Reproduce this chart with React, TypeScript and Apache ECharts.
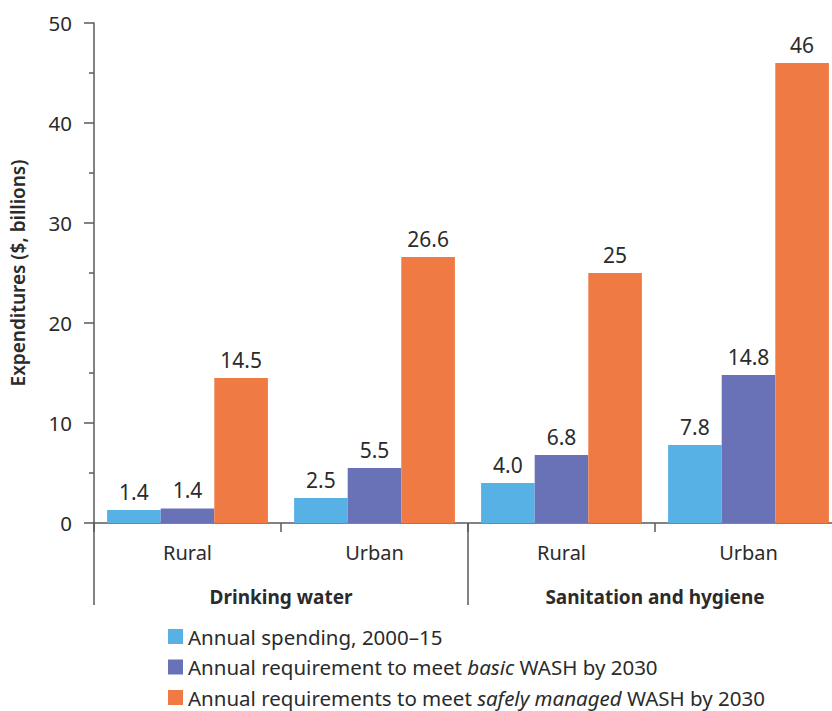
import React, { useEffect, useRef } from "react";
import * as echarts from "echarts";

const categories = ["Rural", "Urban", "Rural", "Urban"];
const groups = ["Drinking water", "Sanitation and hygiene"];
const seriesNames = [
  "Annual spending, 2000–15",
  "Annual requirement to meet basic WASH by 2030",
  "Annual requirements to meet safely managed WASH by 2030",
];
const spending = [1.3, 2.5, 4.0, 7.8];
const basic = [1.45, 5.5, 6.8, 14.8];
const safely = [14.5, 26.6, 25, 46];
const spendingLabels = ["1.4", "2.5", "4.0", "7.8"];
const basicLabels = ["1.4", "5.5", "6.8", "14.8"];
const safelyLabels = ["14.5", "26.6", "25", "46"];
const yTicks = [0, 10, 20, 30, 40, 50];
const colors = ["#58b1e4", "#6a72b7", "#f07a44"];

const FONT = "'Noto Sans', sans-serif";
const TEXT = "#2b2b2b";
const AXIS = "#5a5a5a";

export default function App() {
  const ref = useRef<HTMLDivElement>(null);
  useEffect(() => {
    if (!ref.current) return;
    const chart = echarts.init(ref.current, undefined, { renderer: "svg" });
    const values = [spending, basic, safely];
    const labels = [spendingLabels, basicLabels, safelyLabels];
    const richNames: Record<string, string> = {
      [seriesNames[0]]: seriesNames[0],
      [seriesNames[1]]: seriesNames[1].replace("basic", "{i|basic}"),
      [seriesNames[2]]: seriesNames[2].replace("safely managed", "{i|safely managed}"),
    };
    chart.setOption({
      animation: false,
      textStyle: { fontFamily: FONT },
      grid: { left: 94, right: -10, top: 23, bottom: 188, containLabel: false, outerBoundsMode: "none" },
      legend: {
        orient: "vertical",
        left: 163,
        top: 621,
        height: 150,
        itemWidth: 15,
        itemHeight: 15,
        itemGap: 9.5,
        icon: "rect",
        data: seriesNames,
        formatter: (n: string) => richNames[n] ?? n,
        textStyle: {
          fontFamily: FONT,
          fontSize: 20.5,
          color: TEXT,
          lineHeight: 21,
          rich: { i: { fontStyle: "italic", fontSize: 20.5, color: TEXT, fontFamily: FONT, lineHeight: 21 } },
        },
      },
      xAxis: [
        {
          type: "category",
          data: categories,
          axisLine: { lineStyle: { color: AXIS, width: 1.5 } },
          axisTick: { show: true, length: 9, lineStyle: { color: AXIS, width: 1.5 } },
          axisLabel: { fontSize: 20, color: TEXT, margin: 19, fontFamily: FONT },
        },
        {
          type: "category",
          data: groups,
          position: "bottom",
          axisLine: { show: false },
          axisTick: { show: true, length: 82, lineStyle: { color: AXIS, width: 1.5 } },
          axisLabel: { fontSize: 19, fontWeight: "bold", color: TEXT, margin: 64, fontFamily: FONT },
        },
      ],
      yAxis: {
        type: "value",
        min: yTicks[0],
        max: yTicks[yTicks.length - 1],
        interval: 10,
        name: "Expenditures ($, billions)",
        nameLocation: "middle",
        nameGap: 67,
        nameRotate: 90,
        nameTextStyle: { fontSize: 19, fontWeight: 600, color: TEXT, fontFamily: FONT },
        axisLine: { show: true, lineStyle: { color: AXIS, width: 1.5 } },
        axisTick: { show: true, length: 10, lineStyle: { color: AXIS, width: 1.5 } },
        minorTick: { show: true, splitNumber: 2, length: 5, lineStyle: { color: AXIS, width: 1.5 } },
        splitLine: { show: false },
        axisLabel: { fontSize: 20.5, color: TEXT, margin: 22, fontFamily: FONT },
      },
      series: values.map((v, si) => ({
        name: seriesNames[si],
        type: "bar",
        xAxisIndex: 0,
        data: v,
        barGap: "0%",
        barCategoryGap: "14%",
        itemStyle: { color: colors[si] },
        label: {
          show: true,
          position: "top",
          distance: 8,
          fontSize: 21,
          color: TEXT,
          fontFamily: FONT,
          formatter: (p: any) => labels[si][p.dataIndex],
        },
      })),
    });
    return () => chart.dispose();
  }, []);
  return <div ref={ref} style={{ width: 832, height: 711, position: "absolute", left: 0, top: 0 }} />;
}
